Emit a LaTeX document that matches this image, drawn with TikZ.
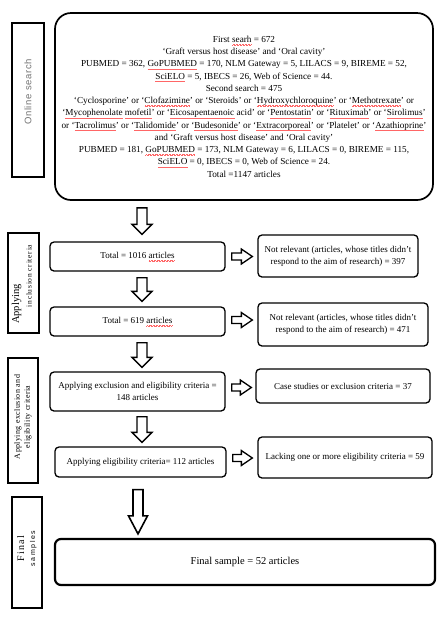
\documentclass[tikz,border=0pt]{standalone}
\usepackage{fontspec}
\setmainfont{Liberation Serif}
\newfontfamily\labsans{Liberation Sans}
\usetikzlibrary{calc}
\newsavebox\swbox
\newcommand\sw[1]{\sbox\swbox{#1}\rlap{\color{red!60}\hbox to \wd\swbox{\xleaders\hbox{\rule[-2.6pt]{0.7pt}{0.3pt}\rule[-2.1pt]{0.7pt}{0.3pt}}\hfil}}\usebox\swbox}
\begin{document}
\begin{tikzpicture}[x=1pt,y=-1pt,
  box/.style={draw, line width=1.3pt, rounded corners=4pt, align=center, inner sep=1pt,
    font=\fontsize{9}{12}\selectfont},
  labbox/.style={draw, line width=1.3pt, inner sep=0pt},
  labtext/.style={rotate=90, align=center, inner sep=0pt},
  downarrow/.style n args={3}{draw, line width=1.3pt, line join=miter,
    to path={let \p1=(\tikztostart), \p2=(\tikztotarget) in
      (\x1-#1,\y1) -- (\x1-#1,\y2+#3) -- (\x1-#2,\y2+#3) -- (\x1,\y2) --
      (\x1+#2,\y2+#3) -- (\x1+#1,\y2+#3) -- (\x1+#1,\y1) -- cycle}},
  rightarrow/.style={draw, line width=1.3pt, line join=miter,
    to path={let \p1=(\tikztostart), \p2=(\tikztotarget) in
      (\x1,\y1-3.5pt) -- (\x2-11pt,\y1-3.5pt) -- (\x2-11pt,\y1-7.5pt) -- (\x2,\y1) --
      (\x2-11pt,\y1+7.5pt) -- (\x2-11pt,\y1+3.5pt) -- (\x1,\y1+3.5pt) -- cycle}}
]
\useasboundingbox (0,0) rectangle (444,622);
\fill[white] (0,0) rectangle (444,622);

% top box
\node[box, line width=1.7pt, rounded corners=16pt, minimum width=378pt, minimum height=187pt,
  font=\fontsize{9.2}{12.25}\selectfont] (top) at (244,106.5)
 {First \sw{searh} = 672\\
 ‘Graft versus host disease’ and ‘Oral cavity’\\
 PUBMED = 362, \sw{GoPUBMED} = 170, NLM Gateway = 5, LILACS = 9, BIREME = 52,\\
 \sw{SciELO} = 5, IBECS = 26, Web of Science = 44.\\
 Second search = 475\\
 ‘Cyclosporine’ or ‘\sw{Clofazimine}’ or ‘Steroids’ or ‘\sw{Hydroxychloroquine}’ or ‘\sw{Methotrexate}’ or\\
 ‘\sw{Mycophenolate} \sw{mofetil}’ or ‘\sw{Eicosapentaenoic} acid’ or ‘\sw{Pentostatin}’ or ‘\sw{Rituximab}’ or ‘\sw{Sirolimus}’\\
 or ‘\sw{Tacrolimus}’ or ‘\sw{Talidomide}’ or ‘\sw{Budesonide}’ or ‘\sw{Extracorporeal}’ or ‘Platelet’ or ‘\sw{Azathioprine}’\\
 and ‘Graft versus host disease’ and ‘Oral cavity’\\
 PUBMED = 181, \sw{GoPUBMED} = 173, NLM Gateway = 6, LILACS = 0, BIREME = 115,\\
 \sw{SciELO} = 0, IBECS = 0, Web of Science = 24.\\
 Total =1147 articles};

% left label boxes
\node[labbox, minimum width=32pt, minimum height=154pt] (lab1) at (28,100) {};
\node[labtext, text=black!55, font=\labsans\fontsize{9.5}{11}\selectfont\addfontfeatures{LetterSpace=7}]
  (lab1t) at ([yshift=8pt]lab1.center) {Online search};

\node[labbox, minimum width=31pt, minimum height=100pt] (lab2) at (23.5,283) {};
\node[labtext, font=\fontsize{10.5}{12}\selectfont] (lab2a) at (16.5,304) {Applying};
\node[labtext, font=\fontsize{7.5}{9}\selectfont\addfontfeatures{LetterSpace=10}] (lab2b) at (29,276)
  {inclusion criteria};

\node[labbox, minimum width=30pt, minimum height=125pt] (lab3) at (23,420.5) {};
\node[labtext, font=\fontsize{8}{10}\selectfont\addfontfeatures{LetterSpace=5}] (lab3t) at ([yshift=3.5pt]lab3.center)
  {Applying exclusion and\\eligibility criteria};

\node[labbox, line width=2.6pt, minimum width=30pt, minimum height=111pt] (lab4) at (27,552.5) {};
\node[labtext] (lab4t) at ([yshift=4pt]lab4.center)
  {{\fontsize{10}{12}\selectfont\addfontfeatures{LetterSpace=14}Final}\\[-1pt]
   {\labsans\fontsize{7}{9}\selectfont\addfontfeatures{LetterSpace=22}samples}};

% main column
\node[box, minimum width=175pt, minimum height=29pt] (t1) at (137.5,256.5) {Total = 1016 \sw{articles}};
\node[box, minimum width=175pt, minimum height=29pt] (t2) at (137.5,321.5) {Total = 619 \sw{articles}};
\node[box, minimum width=175pt, minimum height=39pt] (t3) at (137.5,391.5)
  {Applying exclusion and eligibility criteria =\\148 articles};
\node[box, minimum width=171pt, minimum height=30pt] (t4) at (140.5,462)
  {Applying eligibility criteria= 112 articles};
\node[box, line width=2.2pt, rounded corners=6pt, minimum width=380pt, minimum height=46pt,
  font=\fontsize{10.5}{12}\selectfont] (fin) at (245,562) {Final sample = 52 articles};

% right column
\node[box, minimum width=160pt, minimum height=42pt] (r1) at (338,256)
  {Not relevant (articles, whose titles didn't\\respond to the aim of research) = 397};
\node[box, minimum width=170pt, minimum height=43pt] (r2) at (343,324.5)
  {Not relevant (articles, whose titles didn't\\respond to the aim of research) = 471};
\node[box, minimum width=174pt, minimum height=34pt] (r3) at (343,386)
  {Case studies or exclusion criteria = 37};
\node[box, minimum width=174pt, minimum height=41pt] (r4) at (345,457.5)
  {Lacking one or more eligibility criteria = 59};

% down arrows
\draw[downarrow={5pt}{10pt}{10pt}] ($(top.south -| t1.north)+(4.5,7)$) to ($(t1.north)+(4.5,-7)$);
\draw[downarrow={5pt}{10pt}{10pt}] ($(t1.south)+(4.5,6)$) to ($(t2.north)+(4.5,-5)$);
\draw[downarrow={5pt}{10pt}{10pt}] ($(t2.south)+(4.5,6)$) to ($(t3.north)+(4.5,-4)$);
\draw[downarrow={5pt}{10pt}{10pt}] ($(t3.south)+(4.5,5)$) to ($(t4.north)+(1.5,-4)$);
\draw[downarrow={5pt}{9.5pt}{18pt}, line width=1.6pt] ($(t4.south)+(-2.5,12)$) to ($(fin.north)+(-107,-4)$);

% right arrows
\draw[rightarrow] ($(t1.east)+(6,0)$) to ($(r1.west)+(-5,0)$);
\draw[rightarrow] ($(t2.east)+(6,-1.5)$) to ($(r2.west)+(-5,0)$);
\draw[rightarrow] ($(t3.east)+(6,-4)$) to ($(r3.west)+(-4,0)$);
\draw[rightarrow] ($(t4.east)+(6,-4)$) to ($(r4.west)+(-5,0)$);
\end{tikzpicture}
\end{document}
